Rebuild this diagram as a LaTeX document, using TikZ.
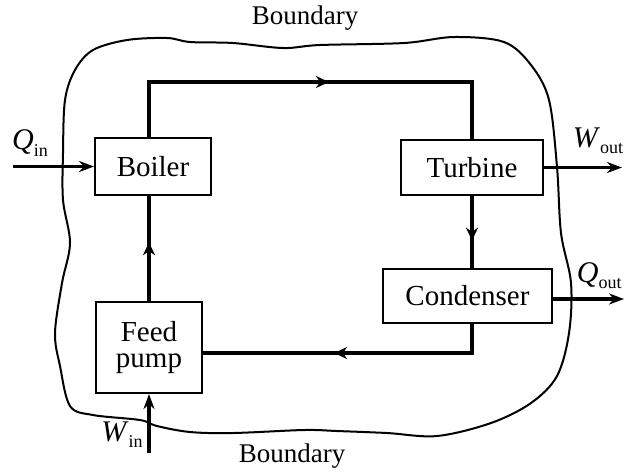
\documentclass[tikz,border=0pt]{standalone}
\usepackage{fontspec}
\setmainfont{Liberation Serif}
\usetikzlibrary{arrows.meta,decorations.markings}
\newcommand{\sub}[1]{\raisebox{-0.45ex}{\fontsize{9}{10}\selectfont #1}}
\begin{document}
\begin{tikzpicture}[x=0.5pt,y=-0.5pt,
  unit/.style={draw,line width=1pt,inner sep=0pt,align=center,font=\fontsize{14.5}{15}\selectfont},
  flow/.style={line width=1.7pt},
  tip/.style={-{Stealth[length=7.5pt,width=5.5pt]}},
  midarrow/.style={postaction={decorate},decoration={markings,mark=at position #1 with {\arrow{Stealth[length=6.5pt,width=6pt]}}}},
  lbl/.style={font=\fontsize{13.5}{15}\selectfont,inner sep=0pt},
  qlbl/.style={font=\fontsize{15}{16}\selectfont,inner sep=0pt}]
\useasboundingbox (0,0) rectangle (624,473);
% boundary
\draw[line width=1pt] plot[smooth cycle,tension=0.55] coordinates {
 (63,200) (63,153) (65,100) (75,70) (93,50) (127,40) (167,38) (190,42)
 (233,43) (283,48) (320,45) (404,43) (454,37) (504,42) (531,65) (549,100)
 (557,167) (561,233) (571,283) (569,333) (557,376) (531,403) (491,423)
 (437,436) (387,433) (337,431) (304,430) (233,433) (190,432) (157,426)
 (140,420) (93,415) (70,406) (60,366) (55,333) (62,283) (70,243)};
\node[lbl] (bt) at (305,18) {Boundary};
\node[lbl] (bb) at (292,456) {Boundary};
% units
\node[unit,minimum width=58pt,minimum height=28.5pt] (boiler) at (153,166.5) {Boiler};
\node[unit,minimum width=71pt,minimum height=27.5pt] (turbine) at (472,167.5) {Turbine};
\node[unit,minimum width=84.5pt,minimum height=27pt] (cond) at (467.5,296) {Condenser};
\node[unit,minimum width=53pt,minimum height=45.5pt] (fp) at (149,347.5) {Feed\\[-2pt]pump};
\coordinate (top) at (300,82);
\coordinate (bot) at (300,353);
\coordinate (qin) at (13,166.5);
\coordinate (wout) at (622,167.5);
\coordinate (qout) at (624,299);
\coordinate (win) at (149,453);
% flows
\draw[flow,midarrow=0.54] (fp.north |- boiler.north) -- (fp.north |- top) -| (turbine.north);
\draw[flow,midarrow=0.62] (turbine.south) -- (turbine.south |- cond.north);
\draw[flow,midarrow=0.56] (turbine.south |- cond.south) |- (fp.east |- bot);
\draw[flow,midarrow=0.56] (fp.north) -- (fp.north |- boiler.south);
\draw[flow,tip] (qin) -- (boiler.west);
\draw[flow,tip] (turbine.east) -- (wout);
\draw[flow,tip] (cond.east |- qout) -- (qout);
\draw[flow,tip] (win) -- (fp.south);
% heat/work labels
\node[qlbl] (lqin) at (30,143) {\textit{Q}\sub{in}};
\node[qlbl] (lwout) at (598,141) {\textit{W}\sub{out}};
\node[qlbl,anchor=east] (lqout) at (622,276) {\textit{Q}\sub{out}};
\node[qlbl] (lwin) at (122,435) {\textit{W}\sub{in}};
\end{tikzpicture}
\end{document}
